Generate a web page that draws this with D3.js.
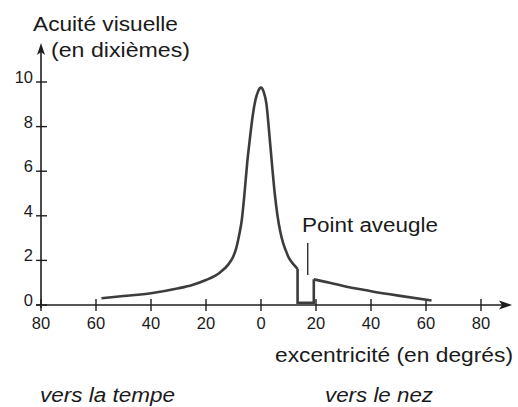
<!DOCTYPE html>
<html>
<head>
<meta charset="utf-8">
<script src="https://cdn.jsdelivr.net/npm/d3@7"></script>
<style>
  html, body { margin: 0; padding: 0; background: #fff; }
  svg { display: block; }
  text { font-family: "Liberation Sans", Arial, Helvetica, sans-serif; fill: #1a1a1a; }
</style>
</head>
<body>
<svg id="chart" width="518" height="407"></svg>
<script>
// ---- data ----
const xTicks = [-80, -60, -40, -20, 0, 20, 40, 60, 80];
const yTicks = [0, 2, 4, 6, 8, 10];

// central retina curve (eccentricity in degrees, acuity in tenths)
const centralE = [-58, -50, -40, -30, -25, -20, -15, -12, -10, -9, -8, -7, -6, -5, -4, -3, -2, -1, 0, 1, 2, 3, 4, 5, 6, 7, 8, 9, 10, 11, 12, 13.3];
const centralV = [0.3, 0.4, 0.53, 0.75, 0.9, 1.12, 1.45, 1.8, 2.2, 2.55, 3.1, 3.8, 5.0, 6.4, 7.5, 8.5, 9.2, 9.6, 9.75, 9.55, 9.0, 7.7, 6.3, 5.0, 4.0, 3.3, 2.8, 2.45, 2.15, 1.95, 1.8, 1.62];

// blind spot notch
const notchE = [13.3, 13.3, 19.2, 19.2];
const notchV = [1.62, 0.1, 0.1, 1.15];

// nasal tail
const nasalE = [19.2, 25, 30, 40, 50, 62];
const nasalV = [1.15, 1.0, 0.85, 0.62, 0.42, 0.2];

const blindSpotE = 17;

// ---- layout ----
const svg = d3.select("#chart");
const x = d3.scaleLinear().domain([-80, 80]).range([41, 481]);
const y = d3.scaleLinear().domain([0, 10]).range([305, 82]);

const ink = "#1e1e1e";
const curveInk = "#3c3c3c";

// x axis line with arrow
svg.append("line")
  .attr("x1", 36).attr("x2", 506)
  .attr("y1", y(0)).attr("y2", y(0))
  .attr("stroke", ink).attr("stroke-width", 1.6);
svg.append("path")
  .attr("d", `M512,${y(0)} L499,${y(0) - 4.5} L502,${y(0)} L499,${y(0) + 4.5} Z`)
  .attr("fill", ink);

// y axis line with arrow
svg.append("line")
  .attr("x1", x(-80)).attr("x2", x(-80))
  .attr("y1", y(0) + 3).attr("y2", 50)
  .attr("stroke", ink).attr("stroke-width", 1.6);
svg.append("path")
  .attr("d", `M${x(-80)},43 L${x(-80) - 4},55 L${x(-80)},52 L${x(-80) + 4},55 Z`)
  .attr("fill", ink);

// x ticks
const xt = svg.append("g");
xt.selectAll("line").data(xTicks).join("line")
  .attr("x1", d => x(d)).attr("x2", d => x(d))
  .attr("y1", y(0) - 6).attr("y2", y(0) + 6)
  .attr("stroke", ink).attr("stroke-width", 1.4);
xt.selectAll("text").data(xTicks).join("text")
  .attr("x", d => x(d)).attr("y", 329)
  .attr("text-anchor", "middle")
  .attr("font-size", 16.5)
  .text(d => Math.abs(d));

// y ticks
const yt = svg.append("g");
yt.selectAll("line").data(yTicks).join("line")
  .attr("x1", x(-80) - 5).attr("x2", x(-80) + 6)
  .attr("y1", d => y(d)).attr("y2", d => y(d))
  .attr("stroke", ink).attr("stroke-width", 1.4);
yt.selectAll("text").data(yTicks).join("text")
  .attr("x", 33).attr("y", d => y(d) + 1)
  .attr("text-anchor", "end")
  .attr("font-size", 16.5)
  .text(d => d);

// curves
const smooth = d3.line().x(d => x(d[0])).y(d => y(d[1])).curve(d3.curveMonotoneX);
const straight = d3.line().x(d => x(d[0])).y(d => y(d[1]));

svg.append("path")
  .attr("d", smooth(centralE.map((e, i) => [e, centralV[i]])))
  .attr("fill", "none").attr("stroke", curveInk).attr("stroke-width", 2.6)
  .attr("stroke-linejoin", "round");
svg.append("path")
  .attr("d", straight(notchE.map((e, i) => [e, notchV[i]])))
  .attr("fill", "none").attr("stroke", curveInk).attr("stroke-width", 2.6)
  .attr("stroke-linejoin", "miter");
svg.append("path")
  .attr("d", smooth(nasalE.map((e, i) => [e, nasalV[i]])))
  .attr("fill", "none").attr("stroke", curveInk).attr("stroke-width", 2.6);

// blind spot pointer
svg.append("line")
  .attr("x1", x(blindSpotE)).attr("x2", x(blindSpotE))
  .attr("y1", 243).attr("y2", 275)
  .attr("stroke", ink).attr("stroke-width", 1.3);

// labels
function label(txt, px, py, len, italic) {
  svg.append("text")
    .attr("x", px).attr("y", py)
    .attr("font-size", 19.5)
    .attr("font-style", italic ? "italic" : "normal")
    .attr("textLength", len)
    .attr("lengthAdjust", "spacingAndGlyphs")
    .text(txt);
}
label("Acuité visuelle", 33, 30.5, 145);
label("(en dixièmes)", 51, 57, 139);
label("Point aveugle", 302, 232, 136);
label("excentricité (en degrés)", 275, 362, 238);
label("vers la tempe", 40, 402, 135, true);
label("vers le nez", 325, 402, 108, true);
</script>
</body>
</html>
